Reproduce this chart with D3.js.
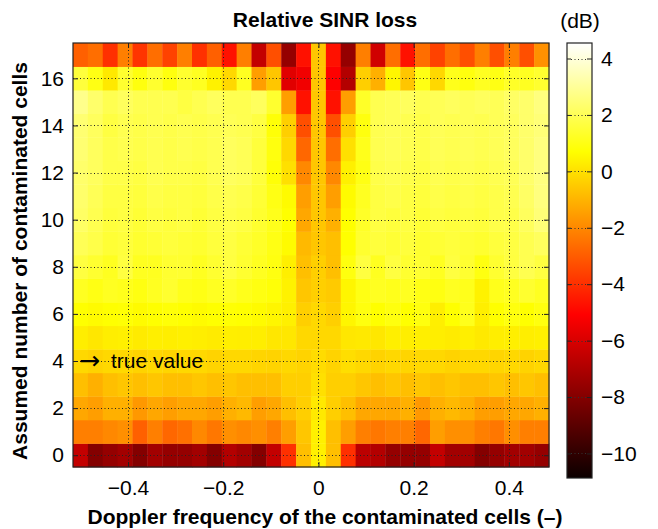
<!DOCTYPE html>
<html>
<head>
<meta charset="utf-8">
<script src="https://cdn.jsdelivr.net/npm/d3@7"></script>
<style>
  body { margin: 0; background: #fff; }
  text { font-family: "Liberation Sans", Arial, sans-serif; fill: #000; }
</style>
</head>
<body>
<div id="chart"></div>
<script>
// DATA

// normalised Doppler frequency of each column (cell centres)
var doppler = [-0.5, -0.46875, -0.4375, -0.40625, -0.375, -0.34375, -0.3125, -0.28125,
  -0.25, -0.21875, -0.1875, -0.15625, -0.125, -0.09375, -0.0625, -0.03125,
  0, 0.03125, 0.0625, 0.09375, 0.125, 0.15625, 0.1875, 0.21875,
  0.25, 0.28125, 0.3125, 0.34375, 0.375, 0.40625, 0.4375, 0.46875];

// assumed number of contaminated cells (rows)
var assumed = [0, 1, 2, 3, 4, 5, 6, 7, 8, 9, 10, 11, 12, 13, 14, 15, 16, 17];

// relative SINR loss in dB, one row per assumed number (row 0 first)
var loss0 = [-6.5,-8.0,-7.6,-7.3,-8.0,-7.3,-7.6,-7.6,-7.3,-8.0,-6.9,-7.3,-8.0,-6.5,-4.0,-0.75,0.35,-0.75,-4.0,-6.7,-6.9,-7.6,-7.6,-7.6,-6.5,-7.3,-7.3,-8.0,-7.6,-7.3,-7.3,-7.6];
var loss1 = [-2.2,-2.2,-2.0,-1.85,-2.9,-2.2,-2.75,-2.55,-2.0,-2.4,-1.85,-2.0,-1.85,-2.2,-1.5,-0.6,0.35,-0.75,-1.5,-2.2,-2.4,-2.2,-2.2,-2.75,-1.5,-1.85,-1.85,-2.2,-2.4,-1.85,-2.2,-2.2];
var loss2 = [-1.3,-1.5,-1.1,-1.1,-1.65,-1.3,-1.5,-1.3,-1.3,-1.5,-1.1,-0.9,-1.5,-1.3,-0.75,-0.4,0.2,-0.4,-0.75,-1.3,-1.3,-1.3,-1.1,-1.65,-1.1,-0.9,-1.1,-1.5,-1.5,-1.3,-1.3,-1.1];
var loss3 = [-0.75,-1.1,-0.75,-0.6,-0.75,-0.6,-0.75,-0.75,-0.6,-0.75,-0.6,-0.75,-0.75,-0.75,-0.4,-0.4,0.0,-0.4,-0.4,-0.6,-0.75,-0.6,-0.75,-0.6,-0.75,-0.6,-0.75,-0.75,-0.6,-0.75,-0.6,-0.75];
var loss4 = [-0.2,-0.3,-0.2,-0.2,-0.3,-0.2,-0.25,-0.2,-0.2,-0.3,-0.2,-0.2,-0.25,-0.3,-0.2,-0.3,-0.1,-0.3,-0.05,-0.2,-0.3,-0.2,-0.25,-0.2,-0.2,-0.3,-0.2,-0.2,-0.25,-0.2,-0.3,-0.2];
var loss5 = [0.3,0.16,0.3,0.35,0.25,0.34,0.3,0.35,0.3,0.25,0.34,0.3,0.3,0.16,0.16,-0.2,-0.2,-0.2,0.16,0.2,0.16,0.34,0.3,0.34,0.3,0.25,0.34,0.2,0.3,0.34,0.3,0.35];
var loss6 = [0.7,0.6,0.7,0.75,0.6,0.7,0.8,0.7,0.6,0.7,0.75,0.7,0.6,0.5,0.35,-0.4,-0.2,-0.4,0.5,0.9,0.7,0.9,0.7,0.9,0.34,0.7,1.1,0.34,0.7,0.9,0.7,0.9];
var loss7 = [1.2,1.0,1.2,1.1,0.95,1.2,1.4,1.1,1.0,1.2,1.3,1.1,0.95,0.8,0.4,-0.6,-0.4,-0.5,0.5,1.0,1.2,1.1,1.2,1.0,0.95,1.2,1.1,0.4,1.1,1.2,1.4,1.2];
var loss8 = [1.66,1.42,1.18,1.66,1.18,1.18,1.42,1.42,1.18,1.42,1.66,1.42,1.18,0.94,0.34,-0.75,-0.4,-0.75,0.9,1.66,1.18,1.66,1.42,1.42,1.18,1.66,1.42,0.94,1.42,1.66,1.9,1.66];
var loss9 = [2.0,1.8,1.5,1.6,1.4,1.5,1.6,1.5,1.4,1.6,1.7,1.5,1.3,1.0,0.6,-0.9,-0.6,-0.75,0.7,1.4,1.6,1.5,1.6,1.4,1.5,1.6,1.5,1.4,1.6,1.7,1.9,2.1];
var loss10 = [2.2,1.9,1.6,1.7,1.5,1.7,1.6,1.7,1.5,1.7,1.8,1.7,1.4,1.1,0.7,-1.3,-0.6,-1.1,0.7,1.3,1.7,1.6,1.7,1.5,1.7,1.6,1.7,1.6,1.8,1.8,2.1,2.5];
var loss11 = [2.3,2.0,1.7,1.7,1.6,1.8,1.7,1.7,1.6,1.8,1.9,1.8,1.5,1.0,0.6,-1.5,-0.6,-1.5,0.6,1.2,1.7,1.8,1.7,1.6,1.8,1.7,1.8,1.7,1.8,1.9,2.2,2.6];
var loss12 = [2.3,2.1,1.8,1.8,1.7,1.9,1.8,1.8,1.7,1.9,2.1,2.0,1.6,0.8,0.0,-2.0,-0.6,-2.0,0.35,1.0,1.8,1.9,1.8,1.7,1.9,1.8,1.9,1.8,1.9,2.0,2.3,2.6];
var loss13 = [2.4,2.1,1.8,1.9,1.8,1.9,1.8,1.9,1.8,1.9,2.1,2.0,1.6,0.9,-0.2,-2.75,-0.6,-2.6,0.0,1.1,1.9,2.0,1.9,1.8,2.0,1.9,2.0,1.9,2.0,2.1,2.3,2.6];
var loss14 = [2.4,2.1,1.7,1.9,1.8,1.9,1.8,1.9,1.8,1.9,2.0,1.9,1.7,0.8,-0.4,-3.3,-0.6,-3.3,-0.4,0.9,1.9,2.0,1.9,1.8,2.0,1.9,2.0,1.9,2.0,2.1,2.3,2.5];
var loss15 = [2.8,2.3,1.9,2.1,1.9,1.9,1.9,1.7,1.9,2.1,1.9,1.9,2.1,1.4,-1.5,-4.7,-0.6,-4.7,-1.5,1.3,1.9,2.0,2.1,1.9,2.0,2.1,2.0,2.1,2.0,2.2,2.3,2.6];
var loss16 = [1.6,1.0,0.2,1.4,0.9,1.4,0.9,1.4,1.2,0.4,-0.2,1.2,-1.5,-0.6,-5.8,-5.4,-0.6,-5.1,-6.9,-0.4,-1.1,0.5,-0.6,1.0,-0.2,1.1,0.9,1.2,1.0,1.3,1.2,1.4];
var loss17 = [-2.9,-2.6,-4.0,-2.2,-3.9,-2.6,-3.6,-2.2,-4.0,-2.9,-4.7,-2.2,-6.5,-3.3,-7.6,-4.7,-0.6,-4.7,-7.6,-2.2,-6.2,-2.6,-4.7,-2.6,-3.6,-2.6,-3.3,-2.2,-3.3,-2.2,-3.3,-1.8];

var lossRows = [loss0, loss1, loss2, loss3, loss4, loss5, loss6, loss7, loss8,
  loss9, loss10, loss11, loss12, loss13, loss14, loss15, loss16, loss17];

var xTicks = [-0.4, -0.2, 0, 0.2, 0.4];
var yTicks = [0, 2, 4, 6, 8, 10, 12, 14, 16];
var cTicks = [-10, -8, -6, -4, -2, 0, 2, 4];
var cMin = -10.87, cMax = 4.55;

// LAYOUT
var width = 658, height = 529;
var plot = { left: 73, right: 549, top: 43, bottom: 467 };
var cbar = { left: 567, right: 592, top: 43, bottom: 478 };
var binW = 1 / 32;

var svg = d3.select("#chart").append("svg")
  .attr("width", width)
  .attr("height", height);

var xScale = d3.scaleLinear()
  .domain([doppler[0] - binW / 2, doppler[doppler.length - 1] + binW / 2])
  .range([plot.left, plot.right]);
var yScale = d3.scaleLinear()
  .domain([-0.5, 17.5])
  .range([plot.bottom, plot.top]);

// MATLAB "hot" colormap: black -> red -> yellow -> white
var span = cMax - cMin;
var color = d3.scaleLinear()
  .domain([cMin, cMin + 0.375 * span, cMin + 0.75 * span, cMax])
  .range(["#0b0000", "#ff0000", "#ffff00", "#ffffff"])
  .clamp(true);

// cells
var cells = [];
lossRows.forEach(function (row, i) {
  row.forEach(function (v, j) {
    cells.push({ f: doppler[j], n: assumed[i], v: v });
  });
});

var cellW = xScale(binW) - xScale(0);
var cellH = yScale(0) - yScale(1);

svg.append("g")
  .selectAll("rect")
  .data(cells)
  .enter()
  .append("rect")
  .attr("x", function (d) { return xScale(d.f - binW / 2); })
  .attr("y", function (d) { return yScale(d.n + 0.5); })
  .attr("width", cellW + 0.4)
  .attr("height", cellH + 0.4)
  .attr("fill", function (d) { return color(d.v); });

// dotted grid
var grid = svg.append("g")
  .attr("stroke", "#222")
  .attr("stroke-width", 1)
  .attr("stroke-dasharray", "1,2.5");

grid.selectAll(".gx")
  .data(xTicks)
  .enter()
  .append("line")
  .attr("x1", function (d) { return Math.round(xScale(d)) + 0.5; })
  .attr("x2", function (d) { return Math.round(xScale(d)) + 0.5; })
  .attr("y1", plot.top)
  .attr("y2", plot.bottom);

grid.selectAll(".gy")
  .data(yTicks)
  .enter()
  .append("line")
  .attr("y1", function (d) { return Math.round(yScale(d)) + 0.5; })
  .attr("y2", function (d) { return Math.round(yScale(d)) + 0.5; })
  .attr("x1", plot.left)
  .attr("x2", plot.right);

// axes (ticks inside)
var fmt = function (d) { return d3.format("")(d).replace("-", "\u2212"); };

var xAxis = svg.append("g")
  .attr("transform", "translate(0," + plot.bottom + ")")
  .call(d3.axisBottom(xScale).tickValues(xTicks).tickSize(-5).tickPadding(13).tickFormat(fmt));
var xAxisTop = svg.append("g")
  .attr("transform", "translate(0," + plot.top + ")")
  .call(d3.axisTop(xScale).tickValues(xTicks).tickSize(-5).tickFormat(""));
var yAxis = svg.append("g")
  .attr("transform", "translate(" + plot.left + ",0)")
  .call(d3.axisLeft(yScale).tickValues(yTicks).tickSize(-5).tickPadding(9).tickFormat(fmt));
var yAxisRight = svg.append("g")
  .attr("transform", "translate(" + plot.right + ",0)")
  .call(d3.axisRight(yScale).tickValues(yTicks).tickSize(-5).tickFormat(""));

[xAxis, xAxisTop, yAxis, yAxisRight].forEach(function (a) {
  a.select(".domain").remove();
  a.selectAll(".tick line").attr("stroke", "#222");
  a.selectAll("text")
    .style("font-family", "'Liberation Sans', Arial, sans-serif")
    .style("font-size", "21px")
    .attr("fill", "#000");
});

// frame
svg.append("rect")
  .attr("x", plot.left)
  .attr("y", plot.top)
  .attr("width", plot.right - plot.left)
  .attr("height", plot.bottom - plot.top)
  .attr("fill", "none")
  .attr("stroke", "#222")
  .attr("stroke-width", 1.2);

// annotation
svg.append("text")
  .attr("x", 79)
  .attr("y", yScale(4) + 8)
  .style("font-family", "'DejaVu Sans', sans-serif")
  .style("font-size", "25px")
  .text("\u2192");
svg.append("text")
  .attr("x", 111)
  .attr("y", yScale(4) + 7)
  .style("font-size", "21px")
  .text("true value");

// colorbar
var cScale = d3.scaleLinear().domain([cMin, cMax]).range([cbar.bottom, cbar.top]);

var defs = svg.append("defs");
var grad = defs.append("linearGradient")
  .attr("id", "hotGrad")
  .attr("x1", "0%").attr("x2", "0%")
  .attr("y1", "100%").attr("y2", "0%");
color.domain().forEach(function (d) {
  grad.append("stop")
    .attr("offset", ((d - cMin) / span * 100) + "%")
    .attr("stop-color", color(d));
});

svg.append("rect")
  .attr("x", cbar.left)
  .attr("y", cbar.top)
  .attr("width", cbar.right - cbar.left)
  .attr("height", cbar.bottom - cbar.top)
  .attr("fill", "url(#hotGrad)")
  .attr("stroke", "#222")
  .attr("stroke-width", 1.2);

svg.append("g")
  .attr("stroke", "#333")
  .attr("stroke-dasharray", "1,2.5")
  .selectAll("line")
  .data(cTicks)
  .enter()
  .append("line")
  .attr("x1", cbar.left + 4)
  .attr("x2", cbar.right - 4)
  .attr("y1", function (d) { return Math.round(cScale(d)) + 0.5; })
  .attr("y2", function (d) { return Math.round(cScale(d)) + 0.5; });

var cAxis = svg.append("g")
  .attr("transform", "translate(" + cbar.right + ",0)")
  .call(d3.axisRight(cScale).tickValues(cTicks).tickSize(-5).tickPadding(9).tickFormat(fmt));
var cAxisLeft = svg.append("g")
  .attr("transform", "translate(" + cbar.left + ",0)")
  .call(d3.axisLeft(cScale).tickValues(cTicks).tickSize(-4).tickFormat(""));

[cAxis, cAxisLeft].forEach(function (a) {
  a.select(".domain").remove();
  a.selectAll(".tick line").attr("stroke", "#222");
  a.selectAll("text")
    .style("font-family", "'Liberation Sans', Arial, sans-serif")
    .style("font-size", "21px")
    .attr("fill", "#000");
});

svg.append("text")
  .attr("x", 580)
  .attr("y", 28)
  .attr("text-anchor", "middle")
  .style("font-size", "21px")
  .text("(dB)");

// titles
svg.append("text")
  .attr("x", 325)
  .attr("y", 27)
  .attr("text-anchor", "middle")
  .style("font-size", "21px")
  .style("font-weight", "bold")
  .text("Relative SINR loss");

svg.append("text")
  .attr("x", 325)
  .attr("y", 524)
  .attr("text-anchor", "middle")
  .style("font-size", "21px")
  .style("font-weight", "bold")
  .text("Doppler frequency of the contaminated cells (\u2013)");

svg.append("text")
  .attr("transform", "translate(27," + 261 + ") rotate(-90)")
  .attr("text-anchor", "middle")
  .style("font-size", "21px")
  .style("font-weight", "bold")
  .text("Assumed number of contaminated cells");
</script>
</body>
</html>
